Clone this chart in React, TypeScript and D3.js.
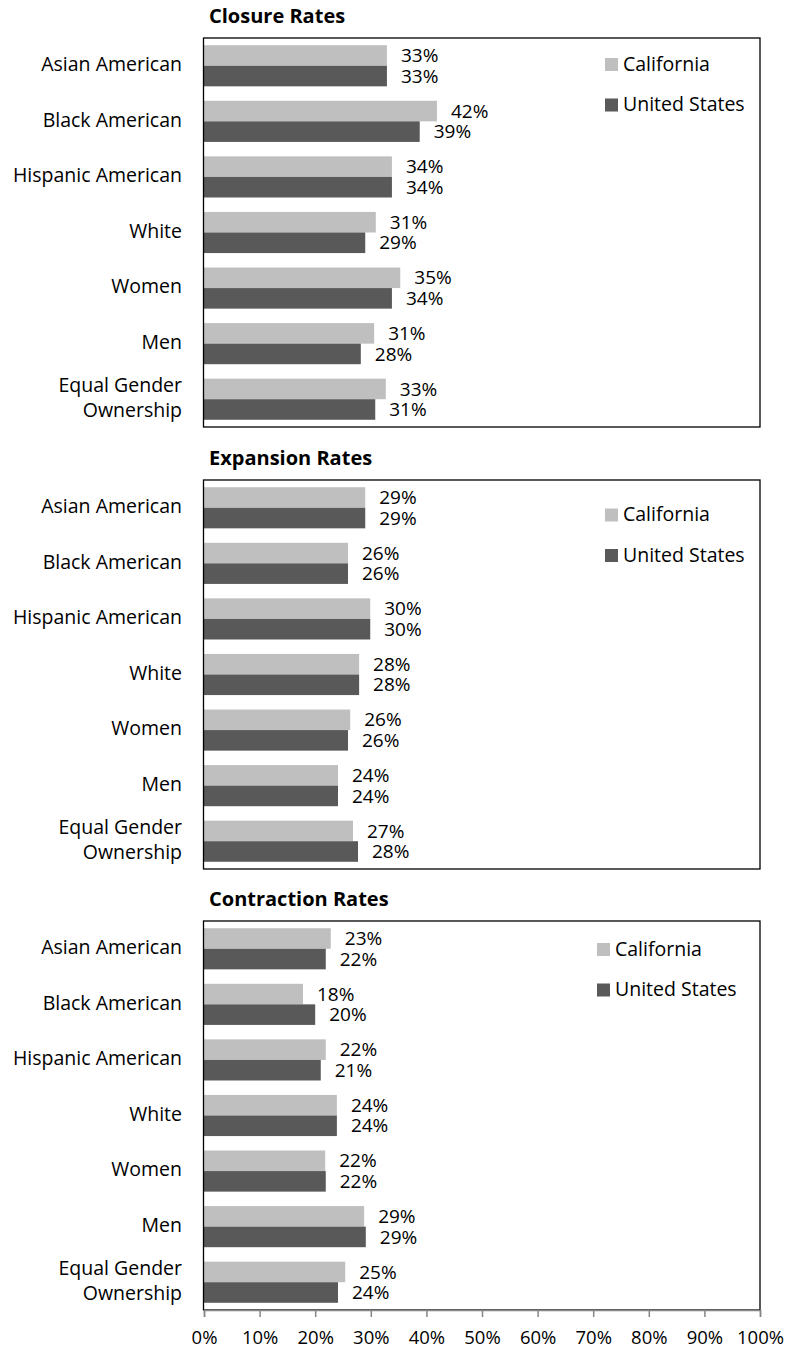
import * as d3 from "d3";
import React, { useEffect, useRef } from "react";

// categories (wrapped the way the original shows them)
const categories = [
  ["Asian American"],
  ["Black American"],
  ["Hispanic American"],
  ["White"],
  ["Women"],
  ["Men"],
  ["Equal Gender", "Ownership"],
];
const seriesNames = ["California", "United States"];
const panelTitles = ["Closure Rates", "Expansion Rates", "Contraction Rates"];

const closureCA = [0.329, 0.419, 0.338, 0.309, 0.353, 0.306, 0.327];
const closureUS = [0.329, 0.388, 0.338, 0.29, 0.338, 0.282, 0.308];
const expansionCA = [0.29, 0.259, 0.299, 0.279, 0.263, 0.241, 0.268];
const expansionUS = [0.29, 0.259, 0.299, 0.279, 0.259, 0.241, 0.277];
const contractionCA = [0.228, 0.178, 0.219, 0.239, 0.218, 0.288, 0.254];
const contractionUS = [0.219, 0.2, 0.21, 0.239, 0.219, 0.291, 0.241];

const tickValues = [0, 0.1, 0.2, 0.3, 0.4, 0.5, 0.6, 0.7, 0.8, 0.9, 1];

const colors = ["#bfbfbf", "#595959"];
const font = "'Open Sans', sans-serif";

export default function App() {
  const ref = useRef<SVGSVGElement>(null);

  useEffect(() => {
    const width = 787,
      height = 1350;
    const svg = d3.select(ref.current);
    svg.selectAll("*").remove();

    const left = 203.5,
      right = 760,
      boxH = 389;
    const tops = [38, 480, 921];
    const legendPos = [
      { x: 605, y: 26.5 },
      { x: 605, y: 35 },
      { x: 597, y: 28.5 },
    ];
    const panels = [
      [closureCA, closureUS],
      [expansionCA, expansionUS],
      [contractionCA, contractionUS],
    ];

    const x = d3.scaleLinear().domain([0, 1]).range([204, 760]);
    const pct = d3.format(".0%");

    panels.forEach((series, pi) => {
      const top = tops[pi];
      const g = svg.append("g");

      g.append("text")
        .attr("x", 209)
        .attr("y", top - 15)
        .attr("font-family", font)
        .attr("font-weight", "bold")
        .attr("font-size", 20)
        .text(panelTitles[pi]);

      const y = d3
        .scaleBand<number>()
        .domain(d3.range(categories.length))
        .range([top, top + boxH])
        .paddingInner(0.26)
        .paddingOuter(0.13);
      const inner = d3
        .scaleBand<number>()
        .domain([0, 1])
        .range([0, y.bandwidth()]);

      series.forEach((vals, si) => {
        g.selectAll(`rect.s${si}`)
          .data(vals)
          .join("rect")
          .attr("x", x(0))
          .attr("y", (_, i) => (y(i) as number) + (inner(si) as number))
          .attr("width", (d) => x(d) - x(0))
          .attr("height", inner.bandwidth())
          .attr("fill", colors[si]);

        g.selectAll(`text.l${si}`)
          .data(vals)
          .join("text")
          .attr("x", (d) => x(d) + 14)
          .attr("y", (_, i) => (y(i) as number) + (inner(si) as number) + inner.bandwidth() / 2 + 1.5)
          .attr("dominant-baseline", "middle")
          .attr("font-family", font)
          .attr("font-size", 19)
          .attr("fill", "#000")
          .text((d) => pct(d));
      });

      // category labels
      categories.forEach((lines, i) => {
        const cy = (y(i) as number) + y.bandwidth() / 2;
        const t = g
          .append("text")
          .attr("text-anchor", "end")
          .attr("font-family", font)
          .attr("font-size", 19.5)
          .attr("fill", "#000");
        lines.forEach((ln, li) => {
          t.append("tspan")
            .attr("x", 182)
            .attr("y", cy + (li - (lines.length - 1) / 2) * 25)
            .attr("dominant-baseline", "middle")
            .text(ln);
        });
      });

      // frame
      g.append("rect")
        .attr("x", left)
        .attr("y", top)
        .attr("width", right - left)
        .attr("height", boxH)
        .attr("fill", "none")
        .attr("stroke", "#000")
        .attr("stroke-width", 1.3);

      // legend
      const lp = legendPos[pi];
      seriesNames.forEach((name, si) => {
        const cy = top + lp.y + si * 40.5;
        g.append("rect")
          .attr("x", lp.x)
          .attr("y", cy - 6.5)
          .attr("width", 13)
          .attr("height", 13)
          .attr("fill", colors[si]);
        g.append("text")
          .attr("x", lp.x + 18)
          .attr("y", cy + 1)
          .attr("dominant-baseline", "middle")
          .attr("font-family", font)
          .attr("font-size", 19.5)
          .attr("fill", "#000")
          .text(name);
      });

      if (pi === panels.length - 1) {
        const axis = d3
          .axisBottom(x)
          .tickValues(tickValues)
          .tickFormat((d) => pct(d as number))
          .tickSizeInner(7)
          .tickSizeOuter(7)
          .tickPadding(14);
        const ax = g
          .append("g")
          .attr("transform", `translate(0,${top + boxH})`)
          .call(axis);
        ax.select(".domain").attr("stroke", "#868686").attr("stroke-width", 1.5);
        ax.selectAll(".tick line").attr("stroke", "#868686").attr("stroke-width", 1.5);
        ax.selectAll(".tick text")
          .attr("font-family", font)
          .attr("font-size", 18.5)
          .attr("fill", "#000");
      }
    });

    svg.attr("width", width).attr("height", height);
  }, []);

  return (
    <svg
      ref={ref}
      width={787}
      height={1350}
      style={{ position: "absolute", left: 0, top: 0, background: "#fff" }}
    />
  );
}
